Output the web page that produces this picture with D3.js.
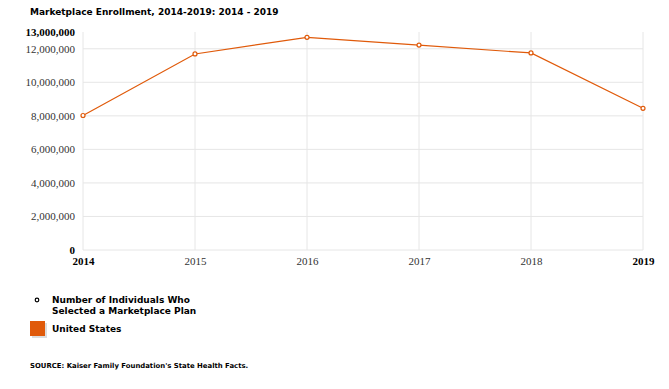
<!DOCTYPE html>
<html>
<head>
<meta charset="utf-8">
<script src="https://cdn.jsdelivr.net/npm/d3@7"></script>
<style>
  body { margin: 0; background: #fff; }
  svg { display: block; }
  .title { font: bold 9px "DejaVu Sans", sans-serif; fill: #000; }
  .tick text { font: 11px "Liberation Serif", serif; fill: #333; }
  .tick text.edge { font-weight: bold; fill: #000; }
  .legend { font: bold 9px "DejaVu Sans", sans-serif; fill: #000; }
  .source { font: bold 6.9px "DejaVu Sans", sans-serif; fill: #000; }
</style>
</head>
<body>
<svg id="chart" width="669" height="389"></svg>
<script>
const years = [2014, 2015, 2016, 2017, 2018, 2019];
const enrollment = [8020000, 11690000, 12680000, 12220000, 11750000, 8450000];
const yTicks = [0, 2000000, 4000000, 6000000, 8000000, 10000000, 12000000, 13000000];

const svg = d3.select("#chart");
const margin = { left: 83, right: 26, top: 32, bottom: 139 };
const width = 669;
const height = 389;
const lineColor = "#e05a0a";

const x = d3.scaleLinear()
  .domain([years[0], years[years.length - 1]])
  .range([margin.left, width - margin.right]);

const y = d3.scaleLinear()
  .domain([0, 13000000])
  .range([height - margin.bottom, margin.top]);

svg.append("text")
  .attr("class", "title")
  .attr("x", 30)
  .attr("y", 15)
  .text("Marketplace Enrollment, 2014-2019: 2014 - 2019");

// horizontal grid
svg.append("g")
  .selectAll("line")
  .data(yTicks.filter((d) => d !== 13000000))
  .join("line")
  .attr("x1", x(years[0]))
  .attr("x2", x(years[years.length - 1]))
  .attr("y1", (d) => y(d))
  .attr("y2", (d) => y(d))
  .attr("stroke", "#e6e6e6")
  .attr("stroke-width", 1);

// vertical grid
svg.append("g")
  .selectAll("line")
  .data(years)
  .join("line")
  .attr("x1", (d) => x(d))
  .attr("x2", (d) => x(d))
  .attr("y1", y(13000000))
  .attr("y2", y(0))
  .attr("stroke", "#e6e6e6")
  .attr("stroke-width", 1);

// y axis labels
const yAxis = svg.append("g")
  .attr("transform", `translate(${margin.left},0)`)
  .call(d3.axisLeft(y).tickValues(yTicks).tickSize(0).tickPadding(8).tickFormat(d3.format(",")));
yAxis.select(".domain").remove();
yAxis.selectAll(".tick text")
  .classed("edge", (d) => d === 0 || d === 13000000);

// x axis labels
const xAxis = svg.append("g")
  .attr("transform", `translate(0,${y(0)})`)
  .call(d3.axisBottom(x).tickValues(years).tickSize(0).tickPadding(7).tickFormat(d3.format("d")));
xAxis.select(".domain").remove();
xAxis.selectAll(".tick text")
  .classed("edge", (d) => d === years[0] || d === years[years.length - 1]);

const points = years.map((yr, i) => [yr, enrollment[i]]);

svg.append("path")
  .datum(points)
  .attr("fill", "none")
  .attr("stroke", lineColor)
  .attr("stroke-width", 1.2)
  .attr("d", d3.line().x((d) => x(d[0])).y((d) => y(d[1])));

svg.append("g")
  .selectAll("circle")
  .data(points)
  .join("circle")
  .attr("cx", (d) => x(d[0]))
  .attr("cy", (d) => y(d[1]))
  .attr("r", 2)
  .attr("fill", "#fff")
  .attr("stroke", lineColor)
  .attr("stroke-width", 1.2);

// legend
const legend = svg.append("g");
legend.append("circle")
  .attr("cx", 37)
  .attr("cy", 300)
  .attr("r", 1.8)
  .attr("fill", "#fff")
  .attr("stroke", "#000")
  .attr("stroke-width", 1.2);
legend.append("text")
  .attr("class", "legend")
  .attr("x", 52)
  .attr("y", 303)
  .text("Number of Individuals Who");
legend.append("text")
  .attr("class", "legend")
  .attr("x", 52)
  .attr("y", 314)
  .text("Selected a Marketplace Plan");
legend.append("rect")
  .attr("x", 32)
  .attr("y", 323)
  .attr("width", 15)
  .attr("height", 15)
  .attr("fill", "#ddd");
legend.append("rect")
  .attr("x", 30)
  .attr("y", 321)
  .attr("width", 15)
  .attr("height", 15)
  .attr("fill", lineColor);
legend.append("text")
  .attr("class", "legend")
  .attr("x", 52)
  .attr("y", 332)
  .text("United States");

svg.append("text")
  .attr("class", "source")
  .attr("x", 30)
  .attr("y", 368)
  .text("SOURCE: Kaiser Family Foundation's State Health Facts.");
</script>
</body>
</html>
